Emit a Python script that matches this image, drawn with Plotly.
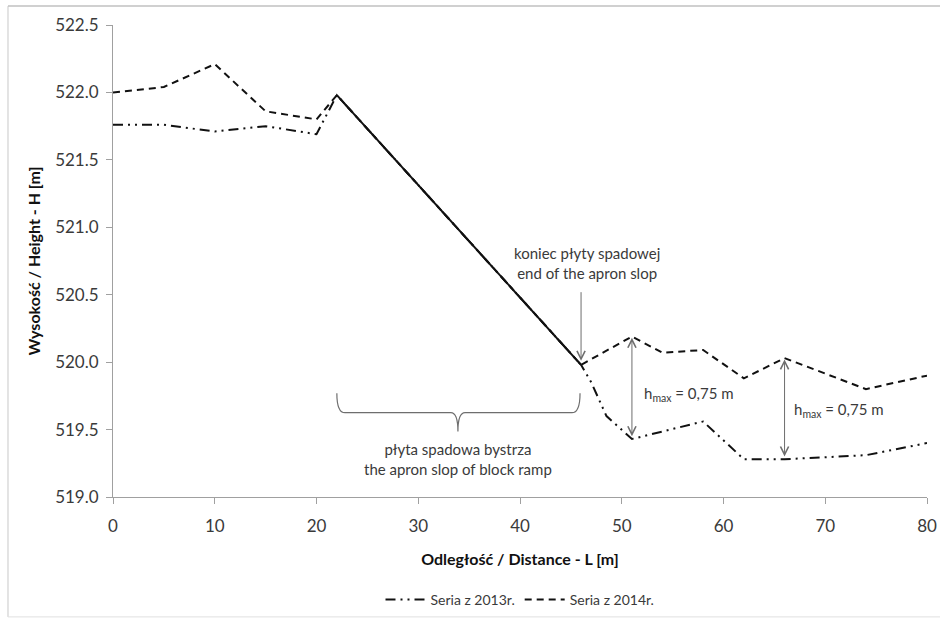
import plotly.graph_objects as go

# ---- data ----
L_2013 = [0, 5, 10, 15, 20, 22, 46, 47, 48.5, 51, 58, 62, 66, 74, 80]
H_2013 = [521.76, 521.76, 521.71, 521.75, 521.69, 521.98, 519.98, 519.85, 519.60,
          519.43, 519.56, 519.28, 519.28, 519.31, 519.40]

L_2014 = [0, 5, 10, 15, 20, 22, 46, 51, 54, 58, 62, 66, 74, 80]
H_2014 = [522.00, 522.04, 522.21, 521.86, 521.80, 521.98, 519.98, 520.19, 520.07,
          520.09, 519.88, 520.03, 519.80, 519.90]

L_apron = [22, 46]
H_apron = [521.98, 519.98]

x_ticks = [0, 10, 20, 30, 40, 50, 60, 70, 80]
y_ticks = [519.0, 519.5, 520.0, 520.5, 521.0, 521.5, 522.0, 522.5]

FONT = "Lato"
TXT = "#3a3a3a"
LINE = "#111111"
GRAY = "#6e6e6e"

fig = go.Figure()
fig.add_trace(go.Scatter(x=L_apron, y=H_apron, mode="lines", showlegend=False,
                         line=dict(color=LINE, width=2), hoverinfo="skip"))
fig.add_trace(go.Scatter(x=L_2013, y=H_2013, mode="lines", name="Seria z 2013r.",
                         line=dict(color=LINE, width=2,
                                   dash="10px,5px,2px,5px,2px,5px")))
fig.add_trace(go.Scatter(x=L_2014, y=H_2014, mode="lines", name="Seria z 2014r.",
                         line=dict(color=LINE, width=2, dash="7px,5px")))

ann = []
# end of apron slope
ann.append(dict(x=46.6, y=520.735, xref="x", yref="y", showarrow=False,
                text="koniec płyty spadowej<br>end of the apron slop",
                font=dict(family=FONT, size=15, color=TXT), align="center"))
ann.append(dict(x=46, y=520.01, ax=46, ay=520.53, xref="x", yref="y",
                axref="x", ayref="y", text="", showarrow=True, arrowhead=5,
                arrowsize=1.6, arrowwidth=1, arrowcolor=GRAY))
# h_max arrows
for (lx, top, bot, tx, ty) in [(51, 520.19, 519.43, 52.0, 519.765),
                               (66, 520.03, 519.28, 66.7, 519.645)]:
    ann.append(dict(x=lx, y=top - 0.01, ax=lx, ay=bot + 0.01, xref="x", yref="y",
                    axref="x", ayref="y", text="", showarrow=True, arrowhead=5,
                    arrowside="end+start", arrowsize=1.6, arrowwidth=1,
                    arrowcolor=GRAY))
    ann.append(dict(x=tx, y=ty, xref="x", yref="y", showarrow=False,
                    xanchor="left", text="h<sub>max</sub> = 0,75 m",
                    font=dict(family=FONT, size=15, color=TXT)))
# brace label
ann.append(dict(x=33.9, y=519.285, xref="x", yref="y", showarrow=False,
                text="płyta spadowa bystrza<br>the apron slop of block ramp",
                font=dict(family=FONT, size=15, color=TXT), align="center"))

shapes = [
    # curly brace under the apron slope
    dict(type="path", xref="x", yref="y",
         path=("M 22,519.77 Q 22,519.625 22.8,519.625 L 33.2,519.625 "
               "Q 33.9,519.625 33.9,519.485 Q 33.9,519.625 34.6,519.625 "
               "L 45.1,519.625 Q 45.9,519.625 45.9,519.77"),
         line=dict(color=GRAY, width=1.2)),
    # outer chart frame (left, top, bottom edges visible in the reference)
    dict(type="line", xref="paper", yref="paper", x0=-0.129, x1=-0.129,
         y0=-0.254, y1=1.040, line=dict(color="#c8c8c8", width=1)),
    dict(type="line", xref="paper", yref="paper", x0=-0.129, x1=1.02,
         y0=1.040, y1=1.040, line=dict(color="#c0c0c0", width=1.5)),
    dict(type="line", xref="paper", yref="paper", x0=-0.129, x1=1.02,
         y0=-0.254, y1=-0.254, line=dict(color="#e0e0e0", width=1)),
]

fig.update_layout(
    width=940, height=619,
    margin=dict(l=113, r=13, t=25, b=122, autoexpand=False),
    paper_bgcolor="white", plot_bgcolor="white",
    font=dict(family=FONT, size=16, color=TXT),
    showlegend=True,
    legend=dict(orientation="h", x=0.5, xanchor="center", y=-0.218,
                yanchor="middle", font=dict(family=FONT, size=14, color=TXT),
                itemwidth=40, traceorder="normal"),
    annotations=ann, shapes=shapes,
)
fig.update_xaxes(range=[0, 80], tickvals=x_ticks, showgrid=False, zeroline=False,
                 automargin=False, ticklabeloverflow="allow",
                 showline=True, linecolor="#a0a0a0", linewidth=1,
                 ticks="outside", ticklen=6, tickcolor="#a0a0a0",
                 ticklabelstandoff=8,
                 tickfont=dict(family=FONT, size=17, color=TXT),
                 title=dict(text="<b>Odległość / Distance - L [m]</b>",
                            font=dict(family=FONT, size=16, color="#111"),
                            standoff=18))
fig.update_yaxes(range=[519, 522.5], tickvals=y_ticks, tickformat=".1f",
                 showgrid=False, zeroline=False, automargin=False,
                 ticklabeloverflow="allow",
                 showline=True, linecolor="#a0a0a0", linewidth=1,
                 ticks="outside", ticklen=6, tickcolor="#a0a0a0",
                 ticklabelstandoff=4,
                 tickfont=dict(family=FONT, size=17, color=TXT),
                 title=dict(text="<b>Wysokość / Height - H [m]</b>",
                            font=dict(family=FONT, size=16, color="#111"),
                            standoff=10))

fig.write_html("out.html", config={"displayModeBar": False},
               post_script="document.body.style.margin='0';"
                           "document.body.style.overflow='hidden';")
